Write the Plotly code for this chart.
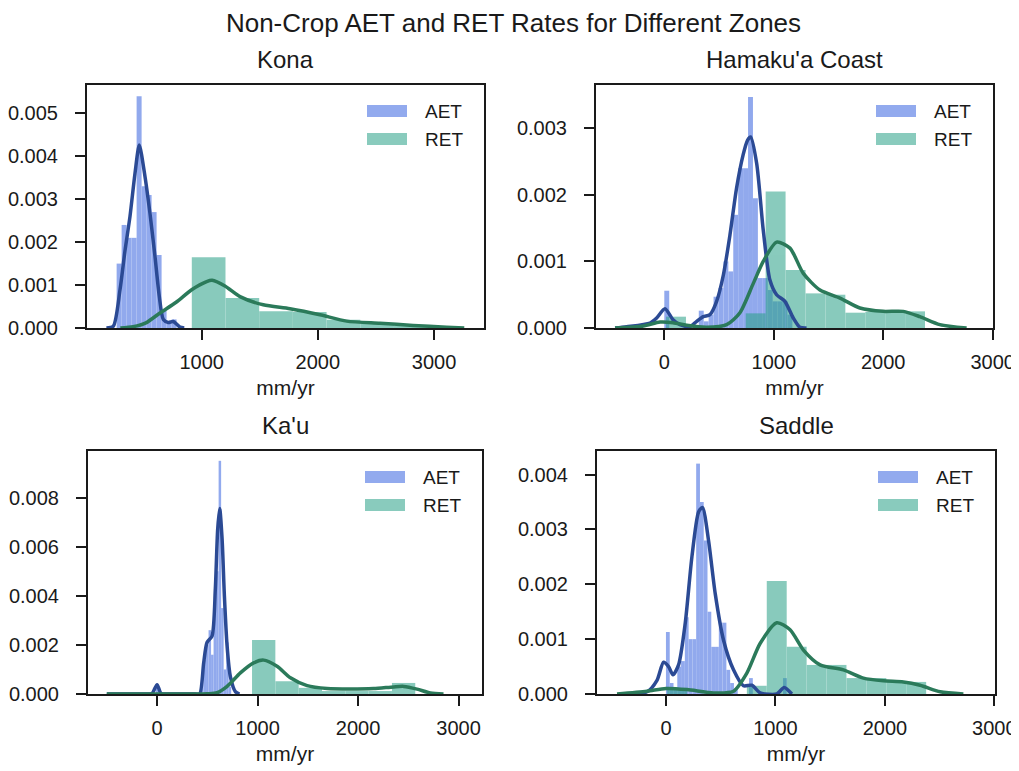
import plotly.graph_objects as go

# ---------------- data ----------------
zones = ["Kona", "Hamaku'a Coast", "Ka'u", "Saddle"]
series = ["AET", "RET"]

# Kona
kona_aet_bin_left = [268, 311, 354, 397, 440, 483, 526, 569, 612, 655, 698, 741]
kona_aet_bin_width = 43
kona_aet_density = [0.0015, 0.0024, 0.0021, 0.0021, 0.0054, 0.0033, 0.0031, 0.0027, 0.0017, 0.0004, 0.0001, 0.0002]
kona_ret_bin_left = [915, 1205, 1495, 1785, 2075, 2365, 2655, 2945]
kona_ret_bin_width = 290
kona_ret_density = [0.00165, 0.0007, 0.00039, 0.00037, 0.00019, 0.0001, 0.00005, 0.00002]
kona_aet_kde_x = [180, 239, 297, 340, 383, 426, 463, 512, 555, 598, 635, 670, 713, 756, 813, 850]
kona_aet_kde_y = [0, 0.00004, 0.00089, 0.0018, 0.0026, 0.0036, 0.00426, 0.00353, 0.00267, 0.00167, 0.00074, 0.0002, 0.00013, 0.00015, 0.00002, 0]
kona_ret_kde_x = [300, 410, 520, 641, 780, 914, 1043, 1090, 1200, 1330, 1530, 1760, 2018, 2248, 2535, 2820, 3108, 3260]
kona_ret_kde_y = [0, 0.00003, 0.00012, 0.00035, 0.0006, 0.00089, 0.00108, 0.00111, 0.00098, 0.00073, 0.00054, 0.00045, 0.00031, 0.00016, 0.00011, 0.00006, 0.00002, 0]

# Hamaku'a Coast
ham_aet_bin_left = [0, 315, 360, 405, 450, 495, 540, 585, 630, 675, 720, 765, 810, 855, 900, 945, 990, 1035, 1080, 1125]
ham_aet_bin_width = 45
ham_aet_density = [0.00056, 0.00026, 0.0001, 0.0002, 0.00047, 0.0006, 0.001, 0.00085, 0.0017, 0.0024, 0.0024, 0.00347, 0.00195, 0.00075, 0.00075, 0.00057, 0.0004, 0.0004, 0.0004, 0.0002]
ham_ret_bin_left = [16, 744, 926, 1108, 1290, 1472, 1654, 1836, 2018, 2200]
ham_ret_bin_width = 182
ham_ret_density = [0.00017, 0.00022, 0.00205, 0.00087, 0.00052, 0.0005, 0.00023, 0.00024, 0.00027, 0.00025]
ham_aet_kde_x = [-450, -344, -130, -70, 6, 82, 143, 235, 296, 356, 417, 478, 540, 600, 660, 720, 760, 789, 844, 904, 965, 1026, 1102, 1178, 1239, 1300]
ham_aet_kde_y = [0, 0.00002, 0.000075, 0.00015, 0.00029, 0.00012, 0.00005, 0.00002, 0.0001, 0.00017, 0.0002, 0.0004, 0.0008, 0.0014, 0.0021, 0.0026, 0.00282, 0.00287, 0.00247, 0.00147, 0.00072, 0.0005, 0.0004, 0.00015, 0.00001, 0]
ham_ret_kde_x = [-450, -192, -39, 80, 204, 387, 570, 691, 813, 904, 1026, 1148, 1270, 1422, 1605, 1787, 2000, 2183, 2335, 2518, 2762]
ham_ret_kde_y = [0, 0.00003, 0.00009, 0.00008, 0.00004, 0.00001, 0.00005, 0.00023, 0.00067, 0.001, 0.00129, 0.0012, 0.00082, 0.00057, 0.00045, 0.0003, 0.00025, 0.00025, 0.00017, 0.00005, 0]

# Ka'u
kau_aet_bin_left = [-12.5, 437.5, 462.5, 487.5, 512.5, 537.5, 562.5, 587.5, 612.5, 637.5, 662.5, 687.5, 712.5]
kau_aet_bin_width = 25
kau_aet_density = [0.0004, 0.0006, 0.0014, 0.002, 0.0026, 0.0016, 0.0035, 0.005, 0.0095, 0.0035, 0.001, 0.0021, 0.0003]
kau_ret_bin_left = [945, 1177, 1409, 1641, 1873, 2105, 2337]
kau_ret_bin_width = 232
kau_ret_density = [0.0022, 0.00052, 0.00025, 0.00012, 0.00012, 0.00012, 0.00045]
kau_aet_kde_x = [-500, -100, -50, 0, 40, 100, 380, 424, 464, 497, 547, 580, 603, 623, 647, 670, 697, 729, 779, 820]
kau_aet_kde_y = [0, 0, 0.00002, 0.00038, 0.00002, 0, 0, 0, 0.00127, 0.0021, 0.00236, 0.0043, 0.0067, 0.00756, 0.00633, 0.004, 0.00195, 0.00072, 0.0001, 0]
kau_ret_kde_x = [-500, 500, 597, 697, 829, 961, 1061, 1194, 1327, 1493, 1692, 1923, 2155, 2354, 2454, 2587, 2720, 2850]
kau_ret_kde_y = [0, 0.00001, 0.00005, 0.00031, 0.00086, 0.00127, 0.00138, 0.00113, 0.00066, 0.00034, 0.00022, 0.0002, 0.00022, 0.00029, 0.00031, 0.0002, 0.00004, 0]

# Saddle
sad_aet_bin_left = [0, 34.5, 69, 103.5, 138, 172.5, 207, 241.5, 276, 310.5, 345, 379.5, 414, 448.5, 483, 517.5, 552, 586.5, 621, 759, 1069.5]
sad_aet_bin_width = 34.5
sad_aet_density = [0.00113, 0.0002, 0.0001, 0.0005, 0.0006, 0.0014, 0.001, 0.001, 0.0042, 0.0035, 0.0028, 0.0015, 0.00086, 0.00086, 0.0013, 0.0013, 0.00044, 0.0002, 0.0001, 0.00029, 0.00029]
sad_ret_bin_left = [11, 739, 921, 1103, 1285, 1467, 1649, 1831, 2013, 2195]
sad_ret_bin_width = 182
sad_ret_density = [0.0001, 0.00015, 0.00206, 0.00086, 0.00053, 0.00053, 0.00029, 0.00029, 0.00022, 0.00022]
sad_aet_kde_x = [-356, -173, -82, -22, 24, 64, 115, 176, 237, 298, 334, 389, 450, 526, 617, 708, 785, 861, 1013, 1080, 1150]
sad_aet_kde_y = [0, 0.00004, 0.00025, 0.00058, 0.0005, 0.00035, 0.00053, 0.00129, 0.0025, 0.00332, 0.0034, 0.0028, 0.00183, 0.00098, 0.00044, 0.00015, 0.00016, 0.00002, 0, 0.00012, 0]
sad_ret_kde_x = [-447, -173, 0, 192, 435, 617, 739, 860, 1013, 1134, 1256, 1408, 1621, 1804, 1987, 2169, 2322, 2505, 2717]
sad_ret_kde_y = [0, 0.00005, 0.0001, 0.00008, 0.00002, 0.00005, 0.00038, 0.00092, 0.0013, 0.00117, 0.0008, 0.00053, 0.00044, 0.00029, 0.00024, 0.00022, 0.00016, 0.00004, 0]

# axis settings per zone
x_ranges = [[13, 3430], [-624, 3003], [-687, 3233], [-630, 3006]]
y_ranges = [[0, 0.00566], [0, 0.00365], [0, 0.0099], [0, 0.00443]]
y_dticks = [0.001, 0.001, 0.002, 0.001]

# ---------------- styling / layout ----------------
PAGE_W, PAGE_H = 1019, 771
OFF = 8                      # browser body margin before the figure div
W, H = PAGE_W - OFF, PAGE_H - OFF
FONT = "Liberation Sans, Arial, sans-serif"
INK = "#1a1a1a"
AET_FILL, RET_FILL = "rgb(56,100,224)", "rgb(40,160,135)"
AET_LINE, RET_LINE = "#2b4a94", "#2b7a5a"
BAR_OPACITY = 0.55
# panel boxes in page pixels: (left, right, top, bottom)
panels_px = [(87, 484, 85, 328), (596, 993, 85, 328), (88, 482, 451, 694), (597, 995, 451, 694)]


def px_x(p):
    return (p - OFF) / W


def px_y(p):
    return 1 - (p - OFF) / H


zone_data = [
    (kona_aet_bin_left, kona_aet_bin_width, kona_aet_density, kona_ret_bin_left, kona_ret_bin_width, kona_ret_density,
     kona_aet_kde_x, kona_aet_kde_y, kona_ret_kde_x, kona_ret_kde_y),
    (ham_aet_bin_left, ham_aet_bin_width, ham_aet_density, ham_ret_bin_left, ham_ret_bin_width, ham_ret_density,
     ham_aet_kde_x, ham_aet_kde_y, ham_ret_kde_x, ham_ret_kde_y),
    (kau_aet_bin_left, kau_aet_bin_width, kau_aet_density, kau_ret_bin_left, kau_ret_bin_width, kau_ret_density,
     kau_aet_kde_x, kau_aet_kde_y, kau_ret_kde_x, kau_ret_kde_y),
    (sad_aet_bin_left, sad_aet_bin_width, sad_aet_density, sad_ret_bin_left, sad_ret_bin_width, sad_ret_density,
     sad_aet_kde_x, sad_aet_kde_y, sad_ret_kde_x, sad_ret_kde_y),
]

fig = go.Figure()
layout = dict(
    width=W, height=H,
    margin=dict(l=0, r=0, t=0, b=0, autoexpand=False),
    paper_bgcolor="white", plot_bgcolor="white",
    font=dict(family=FONT, color=INK),
    showlegend=False,
    barmode="overlay",
    title=dict(text="Non-Crop AET and RET Rates for Different Zones", x=0.5, xanchor="center",
               y=px_y(23), yanchor="middle", automargin=False,
               font=dict(size=26, family=FONT, color=INK)),
)
annotations = []
shapes = []

for i, zone in enumerate(zones):
    (a_left, a_w, a_d, r_left, r_w, r_d, akx, aky, rkx, rky) = zone_data[i]
    k = "" if i == 0 else str(i + 1)
    xa, ya = "x" + k, "y" + k
    L, R, T, B = panels_px[i]

    fig.add_trace(go.Bar(x=[v + a_w / 2 for v in a_left], y=a_d, width=a_w, marker=dict(color=AET_FILL, line=dict(width=0)),
                         opacity=BAR_OPACITY, name="AET", xaxis=xa, yaxis=ya))
    fig.add_trace(go.Scatter(x=akx, y=aky, mode="lines", line=dict(color=AET_LINE, width=3.5, shape="spline", smoothing=0.7),
                             name="AET kde", xaxis=xa, yaxis=ya))
    fig.add_trace(go.Bar(x=[v + r_w / 2 for v in r_left], y=r_d, width=r_w, marker=dict(color=RET_FILL, line=dict(width=0)),
                         opacity=BAR_OPACITY, name="RET", xaxis=xa, yaxis=ya))
    fig.add_trace(go.Scatter(x=rkx, y=rky, mode="lines", line=dict(color=RET_LINE, width=3.5, shape="spline", smoothing=0.7),
                             name="RET kde", xaxis=xa, yaxis=ya))

    common = dict(showline=True, linecolor=INK, linewidth=2, mirror=True, showgrid=False, zeroline=False,
                  automargin=False, ticks="outside", ticklen=10, tickwidth=2, tickcolor=INK,
                  ticklabeloverflow="allow", tickfont=dict(size=20, family=FONT, color=INK))
    layout["xaxis" + k] = dict(common, domain=[px_x(L), px_x(R)], anchor=ya, range=x_ranges[i], tick0=0, dtick=1000,
                               ticklabelstandoff=5,
                               title=dict(text="mm/yr", font=dict(size=21, family=FONT, color=INK), standoff=8))
    layout["yaxis" + k] = dict(common, domain=[px_y(B), px_y(T)], anchor=xa, range=y_ranges[i], tick0=0,
                               dtick=y_dticks[i], tickformat=".3f", ticklabelstandoff=13)

    annotations.append(dict(text=zone, x=(px_x(L) + px_x(R)) / 2, y=px_y(T), xref="paper", yref="paper",
                            xanchor="center", yanchor="bottom", yshift=10, showarrow=False,
                            font=dict(size=24, family=FONT, color=INK)))
    # legend (swatch + label)
    for j, (name, col) in enumerate([("AET", AET_FILL), ("RET", RET_FILL)]):
        cy = T + 26 + 28 * j
        shapes.append(dict(type="rect", xref="paper", yref="paper", x0=px_x(R - 117), x1=px_x(R - 77),
                           y0=px_y(cy + 6), y1=px_y(cy - 6), fillcolor=col, opacity=BAR_OPACITY,
                           line=dict(width=0)))
        annotations.append(dict(text=name, x=px_x(R - 61), y=px_y(cy), xref="paper", yref="paper",
                                xanchor="left", yanchor="middle", showarrow=False,
                                font=dict(size=19, family=FONT, color=INK)))

layout["annotations"] = annotations
layout["shapes"] = shapes
fig.update_layout(**layout)
fig.write_html("out.html")
